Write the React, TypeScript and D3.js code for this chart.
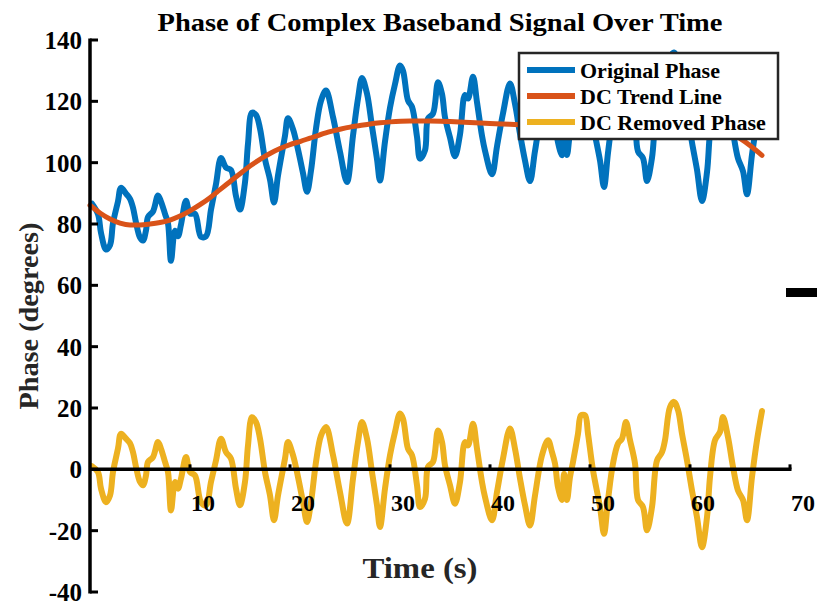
import React from 'react'
import * as d3 from 'd3'

const width = 817
const height = 604
const blue = '#0072BD'
const orange = '#D95319'
const yellow = '#EDB120'
const font = '"Liberation Serif", "Times New Roman", serif'

// time samples of the phase traces (s)
const time = [
  0.2, 0.8, 1.1, 1.6, 2.0, 2.3, 2.8, 3.1, 3.6, 4.0, 4.3, 4.6, 5.0, 5.3, 5.6, 5.8, 6.3, 6.8, 7.1, 7.5,
  7.8, 8.1, 8.5, 8.8, 9.1, 9.6, 10.0, 10.5, 11.1, 11.6, 12.1, 12.6, 13.1, 13.6, 14.1, 14.6, 15.0, 15.5, 15.8, 16.2,
  16.6, 17.0, 17.5, 18.0, 18.4, 18.8, 19.5, 19.8, 20.3, 20.8, 21.3, 21.7, 22.1, 22.6, 23.1, 23.6, 24.3, 25.0, 25.7, 26.3,
  26.8, 27.2, 27.7, 28.2, 28.7, 29.0, 29.5, 30.0, 30.5, 31.0, 31.3, 31.8, 32.2, 32.7, 33.0, 33.5, 33.8, 34.3, 34.8, 35.2,
  35.5, 36.0, 36.5, 37.0, 37.5, 37.8, 38.3, 38.7, 39.2, 39.5, 40.2, 40.7, 41.3, 42.0, 42.5, 43.0, 43.5, 44.0, 44.5, 45.2,
  45.8, 46.2, 46.5, 46.8, 47.2, 47.4, 47.7, 48.0, 48.3, 48.8, 49.1, 49.5, 49.8, 50.3, 51.0, 51.4, 51.8, 52.3, 52.8, 53.2,
  53.6, 54.0, 54.5, 54.8, 55.3, 55.7, 56.2, 56.7, 57.2, 57.5, 58.0, 58.4, 58.8, 59.2, 59.7, 60.2, 60.7, 61.2, 61.7, 62.0,
  62.5, 63.0, 63.3, 63.8, 64.3, 64.8, 65.3, 65.7, 66.2, 66.7, 67.2,
]

const originalPhase = [
  86.6, 83.2, 77.1, 71.7, 73.1, 80.3, 87.4, 91.8, 89.9, 88.2, 85.3, 80.5, 75.6, 74.6, 77.9, 82.3, 84.1, 89.3, 87.3, 83.3,
  80.2, 68.0, 77.8, 76.0, 79.8, 87.6, 83.4, 83.3, 75.8, 76.0, 84.7, 93.0, 101.5, 98.4, 97.6, 89.1, 84.7, 93.6, 106.2, 116.3,
  115.6, 111.1, 101.1, 94.5, 87.0, 95.8, 108.8, 114.5, 110.9, 104.3, 96.6, 90.5, 97.4, 111.1, 120.2, 123.5, 114.9, 103.5, 93.7, 108.8,
  120.9, 127.6, 122.5, 111.8, 101.2, 94.2, 106.9, 117.9, 125.6, 131.7, 130.0, 120.3, 118.2, 108.4, 101.3, 104.0, 114.4, 116.0, 126.2, 122.4,
  114.8, 108.2, 102.1, 109.2, 122.1, 120.9, 128.0, 119.7, 108.8, 103.9, 96.2, 105.3, 116.1, 125.8, 119.2, 109.4, 100.7, 94.0, 103.8, 116.9,
  121.8, 117.9, 114.2, 106.6, 102.4, 111.0, 102.5, 110.0, 114.9, 124.2, 130.3, 130.3, 124.4, 112.5, 100.7, 92.1, 103.2, 115.2, 121.8, 123.4,
  128.9, 123.1, 115.6, 103.7, 101.5, 94.0, 101.6, 116.8, 119.6, 123.5, 134.3, 135.9, 133.1, 125.4, 116.6, 106.6, 97.7, 87.5, 96.9, 109.8,
  121.3, 123.4, 127.9, 120.6, 110.0, 101.4, 97.2, 89.7, 102.6, 113.3, 121.4,
]

const removedPhase = [
  1.0, -0.9, -6.3, -10.7, -8.5, -0.9, 6.8, 11.6, 10.0, 8.5, 5.6, 0.8, -4.1, -5.2, -2.0, 2.4, 4.0, 8.9, 6.7, 2.4,
  -0.9, -13.4, -4.1, -6.3, -3.0, 4.0, -0.9, -2.0, -10.7, -11.7, -4.1, 2.9, 10.0, 5.6, 3.5, -6.3, -11.7, -4.1, 7.8, 17.0,
  15.4, 10.0, -0.9, -8.5, -16.6, -8.5, 3.5, 8.9, 4.6, -2.5, -10.7, -17.2, -10.7, 2.4, 11.0, 13.8, 4.6, -7.4, -17.7, -3.0,
  8.9, 15.4, 10.0, -0.9, -11.7, -18.8, -6.3, 4.6, 12.2, 18.2, 16.5, 6.7, 4.6, -5.2, -12.3, -9.6, 0.8, 2.4, 12.7, 8.9,
  1.3, -5.2, -11.2, -4.1, 8.9, 7.8, 14.9, 6.7, -4.1, -9.0, -16.6, -7.4, 3.5, 13.3, 6.7, -3.0, -11.7, -18.3, -8.5, 4.6,
  9.5, 5.6, 1.9, -5.8, -10.0, -1.4, -10.0, -2.5, 2.4, 11.6, 17.6, 17.6, 11.6, -0.3, -12.3, -21.0, -10.0, 1.9, 8.4, 10.0,
  15.4, 9.5, 1.9, -10.0, -12.3, -19.9, -12.3, 2.9, 5.6, 9.5, 20.3, 22.0, 19.3, 11.6, 2.9, -6.9, -15.6, -25.4, -15.6, -2.5,
  9.5, 12.2, 17.1, 10.5, 0.8, -6.9, -10.0, -16.6, -2.5, 9.5, 19.0,
]

// DC trend line, read at its own sparse times
const trendTime = [0, 1, 2, 3, 4, 5, 6, 7, 8, 9, 10, 11, 12, 13, 14, 15, 16, 17, 18, 19, 20, 21, 22, 23, 24, 25, 26, 27, 28, 29, 30, 32, 34, 36, 38, 40, 42, 44, 46, 48, 50, 52, 54, 56, 58, 60, 61, 62, 63, 64, 65, 66, 67.2]
const trendPhase = [86.1, 83.6, 81.6, 80.3, 79.7, 79.7, 80.0, 80.5, 81.3, 82.6, 84.3, 86.3, 88.6, 91.2, 93.8, 96.4, 98.9, 101.1, 103.0, 104.6, 105.9, 106.9, 108.0, 109.1, 110.1, 110.9, 111.6, 112.1, 112.6, 113.0, 113.3, 113.6, 113.6, 113.4, 113.1, 112.8, 112.5, 112.3, 112.3, 112.5, 112.8, 113.2, 113.6, 113.9, 114.0, 113.6, 113.1, 112.3, 111.2, 109.8, 107.9, 105.6, 102.4]

const yTicks = [-40, -20, 0, 20, 40, 60, 80, 100, 120, 140]
const xTicks = [10, 20, 30, 40, 50, 60, 70]
const legendLabels = ['Original Phase', 'DC Trend Line', 'DC Removed Phase']
const legendColors = [blue, orange, yellow]

const x = d3.scaleLinear().domain([0, 70]).range([90, 790])
const y = d3.scaleLinear().domain([-40, 140]).range([592, 40])

const line = d3
  .line<[number, number]>()
  .x(d => x(d[0]))
  .y(d => y(d[1]))
  .curve(d3.curveCatmullRom.alpha(0.5))

const trendLine = d3
  .line<[number, number]>()
  .x(d => x(d[0]))
  .y(d => y(d[1]))
  .curve(d3.curveMonotoneX)

const App = () => {
  const orig = time.map((t, i) => [t, originalPhase[i]] as [number, number])
  const removed = time.map((t, i) => [t, removedPhase[i]] as [number, number])
  const trend = trendTime.map((t, i) => [t, trendPhase[i]] as [number, number])

  return (
    <div style={{ position: 'absolute', left: 0, top: 0 }}>
      <svg width={width} height={height} style={{ display: 'block', background: '#fff' }}>
        <text
          x={440}
          y={31}
          textAnchor="middle"
          fontFamily={font}
          fontWeight="bold"
          fontSize={26}
          textLength={565}
          lengthAdjust="spacingAndGlyphs"
          fill="#000"
        >
          Phase of Complex Baseband Signal Over Time
        </text>

        <path d={line(orig) ?? ''} fill="none" stroke={blue} strokeWidth={6} strokeLinejoin="round" strokeLinecap="round" />
        <path d={trendLine(trend) ?? ''} fill="none" stroke={orange} strokeWidth={5} strokeLinecap="round" />
        <path d={line(removed) ?? ''} fill="none" stroke={yellow} strokeWidth={6} strokeLinejoin="round" strokeLinecap="round" />

        {/* y axis */}
        <line x1={x(0)} x2={x(0)} y1={y(140) - 1.5} y2={y(-40) + 1.5} stroke="#000" strokeWidth={3.5} />
        {yTicks.map(v => (
          <g key={v}>
            <line x1={x(0)} x2={x(0) + 8} y1={y(v)} y2={y(v)} stroke="#000" strokeWidth={3} />
            <text x={82} y={y(v) + 9} textAnchor="end" fontFamily={font} fontWeight="bold" fontSize={25} fill="#000">
              {v}
            </text>
          </g>
        ))}

        {/* x axis through zero */}
        <line x1={x(0)} x2={x(70) + 1.5} y1={y(0)} y2={y(0)} stroke="#000" strokeWidth={3.5} />
        {xTicks.map(v => (
          <g key={v}>
            <line x1={x(v)} x2={x(v)} y1={y(0)} y2={y(0) - 5} stroke="#000" strokeWidth={3} />
            <text x={x(v) + 1} y={511} fontFamily={font} fontWeight="bold" fontSize={24} fill="#000">
              {v}
            </text>
          </g>
        ))}

        <text
          x={420}
          y={578}
          textAnchor="middle"
          fontFamily={font}
          fontWeight="bold"
          fontSize={30}
          textLength={115}
          lengthAdjust="spacingAndGlyphs"
          fill="#262626"
        >
          Time (s)
        </text>
        <text
          transform={`translate(38, ${y(50)}) rotate(-90)`}
          textAnchor="middle"
          fontFamily={font}
          fontWeight="bold"
          fontSize={28}
          textLength={187}
          lengthAdjust="spacingAndGlyphs"
          fill="#262626"
        >
          Phase (degrees)
        </text>

        {/* legend */}
        <rect x={519} y={53} width={259} height={86} fill="#fff" stroke="#262626" strokeWidth={2.5} />
        {legendLabels.map((label, i) => (
          <g key={label}>
            <line x1={527} x2={575} y1={70 + i * 26} y2={70 + i * 26} stroke={legendColors[i]} strokeWidth={6} />
            <text x={580} y={70 + i * 26 + 8} fontFamily={font} fontWeight="bold" fontSize={22} fill="#000">
              {label}
            </text>
          </g>
        ))}

        <rect x={786} y={288} width={31} height={9} fill="#000" />
      </svg>
    </div>
  )
}

export default App
